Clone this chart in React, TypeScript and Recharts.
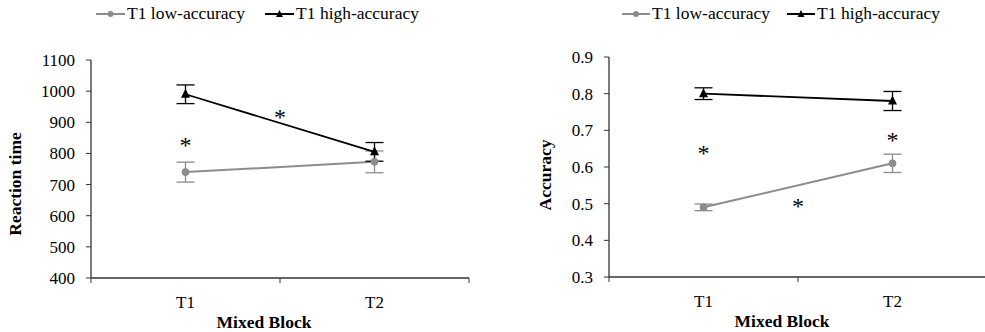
import React from "react";
import { LineChart, Line, XAxis, YAxis, ErrorBar, ReferenceDot, Legend, Label } from "recharts";

const categories = ["T1", "T2"];
const seriesNames = ["T1 low-accuracy", "T1 high-accuracy"];

const rtLow = [740, 773];
const rtLowErr = [32, 35];
const rtHigh = [990, 805];
const rtHighErr = [30, 30];
const rtTicks = [400, 500, 600, 700, 800, 900, 1000, 1100];
const rtStars = [
  { pos: 0.5, value: 840 },
  { pos: 1, value: 930 },
];

const accLow = [0.49, 0.61];
const accLowErr = [0.009, 0.025];
const accHigh = [0.8, 0.78];
const accHighErr = [0.016, 0.026];
const accTicks = [0.3, 0.4, 0.5, 0.6, 0.7, 0.8, 0.9];
const accStars = [
  { pos: 0.5, value: 0.65 },
  { pos: 1.5, value: 0.685 },
  { pos: 1, value: 0.505 },
];

const GRAY = "#8c8c8c";
const BLACK = "#000";
const AXIS = "#333";
const FONT = "Liberation Serif";

const buildRows = (low: number[], lowErr: number[], high: number[], highErr: number[]) =>
  categories.map((c, i) => ({
    x: i + 0.5,
    cat: c,
    low: low[i],
    lowErr: lowErr[i],
    high: high[i],
    highErr: highErr[i],
  }));

const rtRows = buildRows(rtLow, rtLowErr, rtHigh, rtHighErr);
const accRows = buildRows(accLow, accLowErr, accHigh, accHighErr);

const XTick = (props: any) => {
  const { x, y, payload } = props;
  const v = payload.value;
  if (Number.isInteger(v)) {
    return <line x1={x} x2={x} y1={y} y2={y + 5} stroke={AXIS} strokeWidth={1} />;
  }
  return (
    <text x={x} y={y + 30} textAnchor="middle" style={{ fontSize: 17, fontFamily: FONT }} fill="#000">
      {categories[Math.floor(v)]}
    </text>
  );
};

const YTick = (props: any) => {
  const { x, y, payload, fmt } = props;
  return (
    <text x={x} y={y} dy={6} textAnchor="end" style={{ fontSize: 17, fontFamily: FONT }} fill="#000">
      {fmt(payload.value)}
    </text>
  );
};

const Triangle = (props: any) => {
  const { cx, cy } = props;
  if (cx == null || cy == null) return null;
  return <polygon points={`${cx},${cy - 5.5} ${cx - 4.5},${cy + 3.5} ${cx + 4.5},${cy + 3.5}`} fill={BLACK} />;
};

const Star = (props: any) => {
  const { cx, cy } = props;
  return (
    <text x={cx} y={cy + 12.5} textAnchor="middle" style={{ fontSize: 24, fontFamily: FONT }} fill="#000">
      *
    </text>
  );
};

const LegendContent = ({ iconW, gap }: { iconW: number; gap: number }) => (
  <div
    style={{
      display: "flex",
      alignItems: "center",
      fontFamily: FONT,
      fontSize: 17.5,
      color: "#000",
      whiteSpace: "nowrap",
      width: "max-content",
    }}
  >
    {seriesNames.map((name, i) => (
      <div key={name} style={{ display: "flex", alignItems: "center", flexShrink: 0, marginRight: i === 0 ? gap : 0 }}>
        <svg width={iconW} height={12} style={{ display: "block", flexShrink: 0 }}>
          <line x1={0} x2={iconW} y1={6} y2={6} stroke={i === 0 ? GRAY : BLACK} strokeWidth={2} />
          {i === 0 ? (
            <circle cx={iconW / 2} cy={6} r={3} fill={GRAY} />
          ) : (
            <polygon points={`${iconW / 2},${2} ${iconW / 2 - 3.5},${9} ${iconW / 2 + 3.5},${9}`} fill={BLACK} />
          )}
        </svg>
        <span style={{ marginLeft: 2, fontFamily: FONT }}>{name}</span>
      </div>
    ))}
  </div>
);

type PanelProps = {
  rows: any[];
  ticks: number[];
  domain: [number, number];
  stars: { pos: number; value: number }[];
  yTitle: string;
  yTitleDx: number;
  yTitleDy: number;
  width: number;
  yAxisWidth: number;
  margin: { top: number; right: number; bottom: number; left: number };
  legendLeft: number;
  legendIconW: number;
  legendGap: number;
  fmt: (v: number) => string;
};

const Panel = (p: PanelProps) => (
  <LineChart width={p.width} height={332} data={p.rows} margin={p.margin}>
    <Legend
      layout="horizontal"
      verticalAlign="middle"
      align="center"
      wrapperStyle={{ top: 3, left: p.legendLeft, width: "auto" }}
      content={() => <LegendContent iconW={p.legendIconW} gap={p.legendGap} />}
    />
    <XAxis
      dataKey="x"
      type="number"
      domain={[0, 2]}
      ticks={[0, 0.5, 1, 1.5, 2]}
      tick={<XTick />}
      tickLine={false}
      tickSize={0}
      tickMargin={0}
      height={30}
      axisLine={{ stroke: AXIS, strokeWidth: 1.3 }}
      interval={0}
    >
      <Label
        content={(lp: any) => {
          const vb = lp.viewBox;
          return (
            <text
              x={vb.x + vb.width / 2 - 16}
              y={vb.y + 50}
              textAnchor="middle"
              style={{ fontSize: 17.5, fontWeight: "bold", fontFamily: FONT }}
              fill="#000"
            >
              Mixed Block
            </text>
          );
        }}
      />
    </XAxis>
    <YAxis
      type="number"
      domain={p.domain}
      ticks={p.ticks}
      interval={0}
      width={p.yAxisWidth}
      tickSize={5}
      tickMargin={11}
      tick={<YTick fmt={p.fmt} />}
      tickLine={{ stroke: AXIS }}
      axisLine={{ stroke: AXIS, strokeWidth: 1.3 }}
      allowDataOverflow
    >
      <Label
        content={(lp: any) => {
          const vb = lp.viewBox;
          const cx = vb.x + p.yTitleDx;
          const cy = vb.y + vb.height / 2 + p.yTitleDy;
          return (
            <text
              x={cx}
              y={cy}
              transform={`rotate(-90 ${cx} ${cy})`}
              textAnchor="middle"
              dominantBaseline="central"
              style={{ fontSize: 17.5, fontWeight: "bold", fontFamily: FONT }}
              fill="#000"
            >
              {p.yTitle}
            </text>
          );
        }}
      />
    </YAxis>
    <Line
      dataKey="low"
      stroke={GRAY}
      strokeWidth={2}
      dot={{ r: 3.5, fill: GRAY, stroke: GRAY, strokeWidth: 1 }}
      isAnimationActive={false}
    >
      <ErrorBar dataKey="lowErr" width={9} stroke={GRAY} strokeWidth={1.3} direction="y" />
    </Line>
    <Line
      dataKey="high"
      stroke={BLACK}
      strokeWidth={1.8}
      dot={<Triangle />}
      isAnimationActive={false}
    >
      <ErrorBar dataKey="highErr" width={9} stroke={BLACK} strokeWidth={1.3} direction="y" />
    </Line>
    {p.stars.map((s, i) => (
      <ReferenceDot key={i} x={s.pos} y={s.value} ifOverflow="visible" shape={(sp: any) => <Star {...sp} />} />
    ))}
  </LineChart>
);

export default function App() {
  return (
    <div
      style={{
        position: "absolute",
        left: 0,
        top: 0,
        width: 985,
        height: 332,
        overflow: "hidden",
        background: "#fff",
        fontFamily: FONT,
      }}
    >
      <div style={{ position: "absolute", left: 0, top: 0 }}>
        <Panel
          rows={rtRows}
          ticks={rtTicks}
          domain={[400, 1100]}
          stars={rtStars}
          yTitle="Reaction time"
          yTitleDx={15}
          yTitleDy={15}
          width={480}
          yAxisWidth={91}
          margin={{ top: 60, right: 11, bottom: 24, left: 0 }}
          legendLeft={96}
          legendIconW={29}
          legendGap={20}
          fmt={(v) => String(v)}
        />
      </div>
      <div style={{ position: "absolute", left: 480, top: 0 }}>
        <Panel
          rows={accRows}
          ticks={accTicks}
          domain={[0.3, 0.9]}
          stars={accStars}
          yTitle="Accuracy"
          yTitleDx={65}
          yTitleDy={8}
          width={510}
          yAxisWidth={129}
          margin={{ top: 57, right: 3, bottom: 25, left: 0 }}
          legendLeft={142}
          legendIconW={28}
          legendGap={17}
          fmt={(v) => v.toFixed(1)}
        />
      </div>
    </div>
  );
}
